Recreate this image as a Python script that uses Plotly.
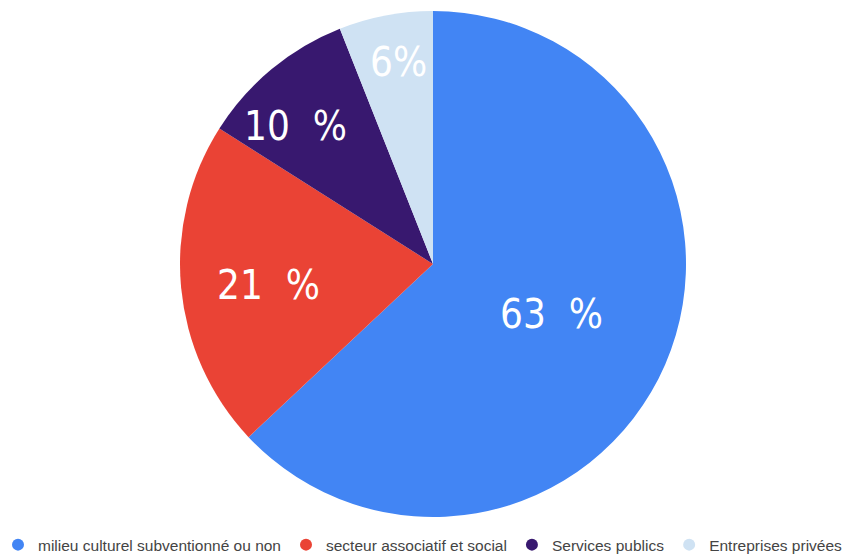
import plotly.graph_objects as go

categories = ["milieu culturel subventionné ou non", "secteur associatif et social",
              "Services publics", "Entreprises privées"]
values = [63, 21, 10, 6]
colors = ["#4285F4", "#EA4335", "#38186F", "#CFE2F3"]
label_texts = ["63\u00a0\u00a0%", "21\u00a0\u00a0%", "10\u00a0\u00a0%", "6%"]
label_pos = [(551, 314), (268, 285), (295, 126), (398, 62)]

W, H = 855, 554
OFF = 8  # page body margin offset


def px_x(px):
    return (px - OFF) / W


def px_y(py):
    return 1 - (py - OFF) / H


fig = go.Figure()
fig.add_trace(go.Pie(
    labels=categories, values=values, sort=False, direction="clockwise",
    rotation=0, marker=dict(colors=colors, line=dict(width=0)),
    textinfo="none", showlegend=False, hoverinfo="label+percent",
    domain=dict(x=[px_x(180), px_x(686)], y=[px_y(517), px_y(11)]),
))
for c, col in zip(categories, colors):
    fig.add_trace(go.Scatter(x=[None], y=[None], mode="markers", name=c,
                             marker=dict(symbol="circle", size=13, color=col)))

annotations = []
for t, (px, py) in zip(label_texts, label_pos):
    annotations.append(dict(text=t, x=px_x(px), y=px_y(py), xref="paper", yref="paper",
                            showarrow=False, xanchor="center", yanchor="middle",
                            font=dict(family="DejaVu Sans Condensed", size=40, color="white")))

fig.update_layout(
    width=W, height=H, margin=dict(l=0, r=0, t=0, b=0, autoexpand=False),
    paper_bgcolor="white", plot_bgcolor="white",
    xaxis=dict(visible=False), yaxis=dict(visible=False),
    annotations=annotations,
    legend=dict(orientation="h", x=-10 / W, xanchor="left", y=-0.0001, yanchor="bottom",
                font=dict(family="Liberation Sans, Arial", size=15.5, color="#444444"),
                itemsizing="constant", bgcolor="rgba(0,0,0,0)"),
)
fig.write_html("out.html")
